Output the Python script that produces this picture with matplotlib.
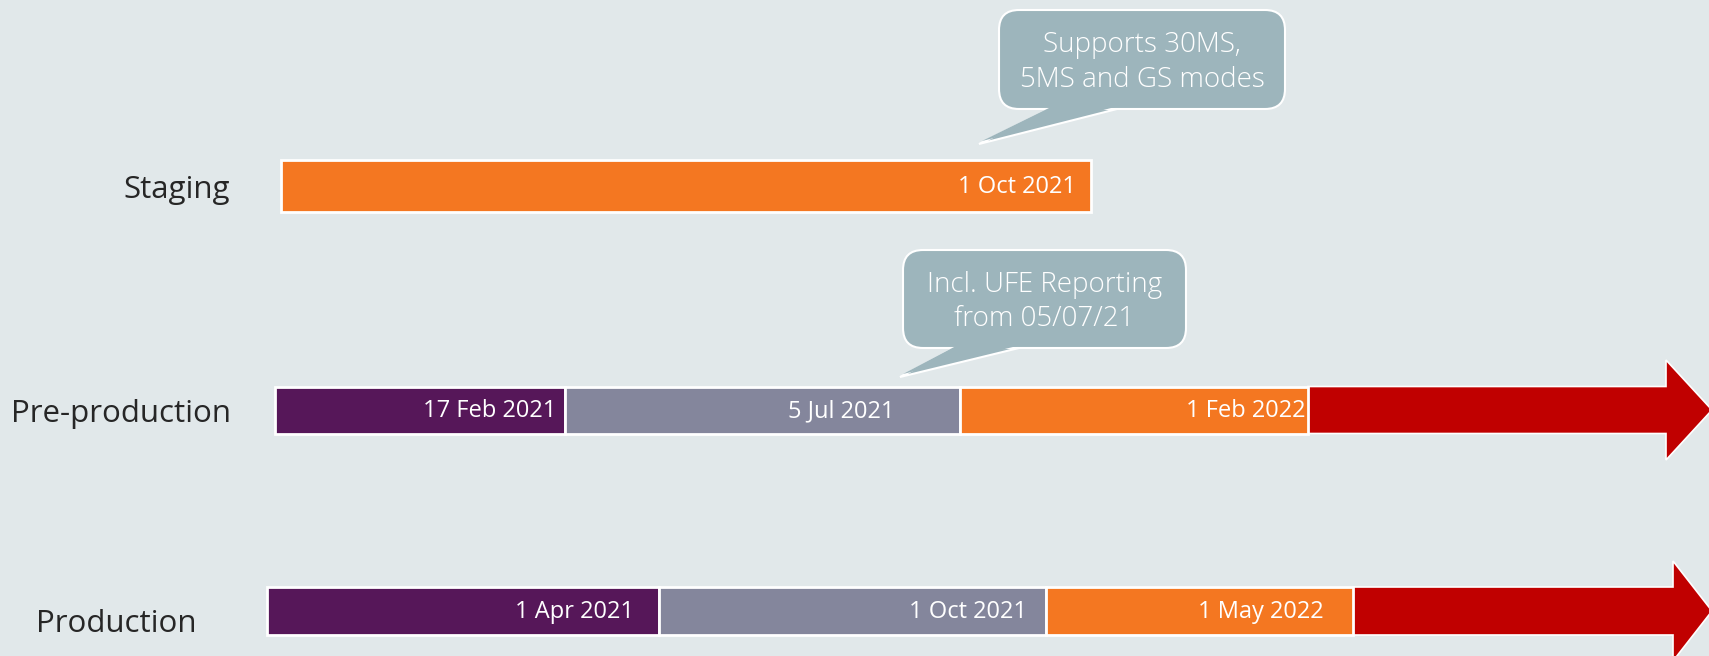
import matplotlib
matplotlib.use("Agg")
from matplotlib import pyplot as plt
from matplotlib.patches import FancyBboxPatch, Polygon

plt.rcParams["font.family"] = ["Open Sans", "DejaVu Sans"]

# rows of the timeline (y centre in pixel units, since the axes map 1:1 to pixels)
rows = ["Staging", "Pre-production", "Production"]
row_y = [186, 410, 611]
row_h = [52, 47, 48]
row_label_x = [123, 11, 36]
row_label_dy = [4, 4, 13]

# segment edges and the dates written in them
staging_edges = [281, 1091]
staging_dates = ["1 Oct 2021"]
staging_colors = ["#F47721"]

preprod_edges = [275, 565, 960, 1308]
preprod_dates = ["17 Feb 2021", "5 Jul 2021", "1 Feb 2022"]
preprod_colors = ["#561759", "#84869C", "#F47721"]

prod_edges = [267, 659, 1046, 1353]
prod_dates = ["1 Apr 2021", "1 Oct 2021", "1 May 2022"]
prod_colors = ["#561759", "#84869C", "#F47721"]

# where each date label ends (right aligned)
staging_text_end = [1076]
preprod_text_end = [556, 894, 1305]
prod_text_end = [634, 1027, 1324]

# red "ongoing" arrows: shaft end, tip, head half height
arrow_shaft_end = [None, 1666, 1673]
arrow_tip = [None, 1712, 1712]
arrow_head_half = [None, 50, 50]

callout_texts = ["Supports 30MS,\n5MS and GS modes", "Incl. UFE Reporting\nfrom 05/07/21"]
callout_boxes = [(999, 10, 286, 99), (903, 250, 283, 98)]
callout_tails = [[(1049, 109), (1117, 109), (979, 144)],
                 [(954, 348), (1019, 348), (900, 377)]]

bg = "#E1E8EA"
bubble = "#9DB5BC"

fig = plt.figure(figsize=(17.09, 6.56), dpi=100)
fig.patch.set_facecolor(bg)
ax = fig.add_axes([0, 0, 1, 1])
ax.set_facecolor(bg)
ax.set_xlim(0, 1709)
ax.set_ylim(656, 0)
ax.axis("off")

all_edges = [staging_edges, preprod_edges, prod_edges]
all_dates = [staging_dates, preprod_dates, prod_dates]
all_colors = [staging_colors, preprod_colors, prod_colors]
all_text_end = [staging_text_end, preprod_text_end, prod_text_end]

for i, name in enumerate(rows):
    y = row_y[i]
    h = row_h[i]
    edges = all_edges[i]
    # red arrow first so the last segment edge sits on top
    if arrow_shaft_end[i] is not None:
        x0 = edges[-1]
        xs = arrow_shaft_end[i]
        hh = arrow_head_half[i]
        pts = [(x0, y - h / 2), (xs, y - h / 2), (xs, y - hh), (arrow_tip[i], y),
               (xs, y + hh), (xs, y + h / 2), (x0, y + h / 2)]
        ax.add_patch(Polygon(pts, closed=True, facecolor="#C00000",
                             edgecolor="white", linewidth=1.2, zorder=2))
    for j in range(len(edges) - 1):
        ax.barh(y, edges[j + 1] - edges[j], left=edges[j], height=h,
                color=all_colors[i][j], edgecolor="white", linewidth=2, zorder=3)
        ax.text(all_text_end[i][j], y + 1, all_dates[i][j], ha="right", va="center",
                color="white", fontsize=17, zorder=4)
    ax.text(row_label_x[i], y + row_label_dy[i], name, ha="left", va="center",
            color="#262626", fontsize=22.5)

for txt, (bx, by, bw, bh), tail in zip(callout_texts, callout_boxes, callout_tails):
    ax.add_patch(Polygon(tail, closed=True, facecolor=bubble, edgecolor="white",
                         linewidth=1.5, zorder=5))
    ax.add_patch(FancyBboxPatch((bx, by), bw, bh,
                                boxstyle="round,pad=0,rounding_size=20",
                                facecolor=bubble, edgecolor="white",
                                linewidth=1.5, zorder=6))
    # cover the box edge where the tail joins
    inner = [(tail[0][0] + 2, tail[0][1] - 2), (tail[1][0] - 2, tail[1][1] - 2),
             (tail[2][0] + 3, tail[2][1] - 3)]
    ax.add_patch(Polygon(inner, closed=True, facecolor=bubble, edgecolor="none",
                         zorder=7))
    ax.text(bx + bw / 2, by + bh / 2 + 3, txt, ha="center", va="center",
            color="white", fontsize=20, fontweight="light", linespacing=1.32,
            zorder=8)

fig.savefig("out.png", dpi=100, facecolor=bg)
